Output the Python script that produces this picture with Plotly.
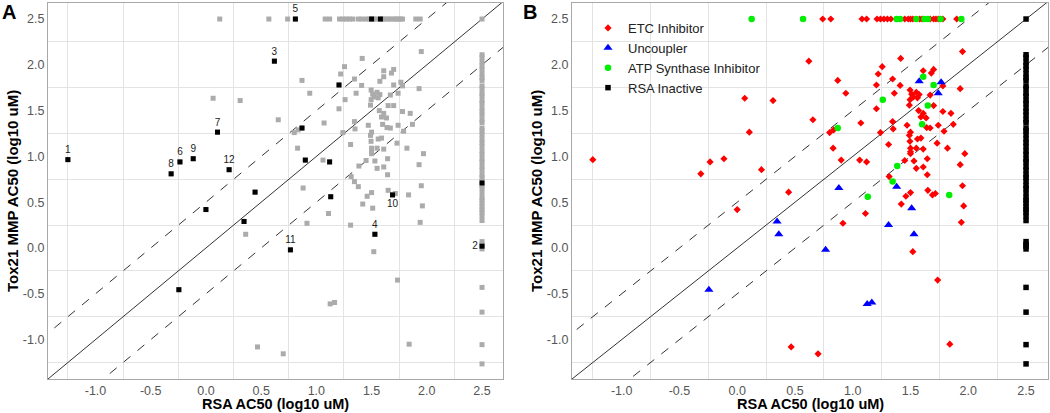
import plotly.graph_objects as go
from plotly.subplots import make_subplots

# ---- data, log10 uM (RSA AC50 on x, Tox21 MMP AC50 on y) ----
etc_x = [0.74, 0.81, 1.08, 1.12, 1.21, 1.24, 1.27, 1.30, 1.33, 1.45, 1.48, 1.50, 1.52,
         1.58, 1.60, 1.67, 1.70, 1.72, 1.74, 1.78, 1.90,
         -1.25, -0.315, -0.235, -0.115, 0.0, 0.065, 0.105, 0.21, 0.31, 0.445, 0.467,
         0.62, 0.655, 0.70, 0.80, 0.835, 0.83, 0.87, 0.90, 0.915, 0.94, 1.06, 1.07,
         1.11, 1.12, 1.205, 1.205, 1.22, 1.24, 1.255, 1.31, 1.315, 1.345, 1.345, 1.35,
         1.36, 1.41, 1.415, 1.42, 1.45, 1.46, 1.47, 1.49, 1.49, 1.495, 1.496, 1.496,
         1.50, 1.50, 1.50, 1.50, 1.50, 1.51, 1.52, 1.525, 1.53, 1.55, 1.55, 1.55, 1.56,
         1.56, 1.57, 1.575, 1.59, 1.59, 1.61, 1.61, 1.61, 1.61, 1.635, 1.64, 1.645,
         1.645, 1.65, 1.67, 1.67, 1.68, 1.69, 1.70, 1.70, 1.715, 1.73, 1.735, 1.74,
         1.78, 1.78, 1.79, 1.82, 1.84, 1.85, 1.87, 1.93, 1.93, 1.94, 1.95, 1.95, 1.96,
         1.97]
etc_y = [2.5, 2.5, 2.5, 2.5, 2.5, 2.5, 2.5, 2.5, 2.5, 2.5, 2.5, 2.5, 2.5,
         2.5, 2.5, 2.5, 2.5, 2.5, 2.5, 2.5, 2.5,
         0.965, 0.81, 0.94, 0.975, 0.42, 1.635, 1.265, 0.855, 1.61, 0.61, -1.08,
         2.04, 1.40, -1.155, 1.26, 1.29, 1.09, 1.83, 0.96, 0.27, 1.69, 0.96, 1.365,
         0.377, 0.94, 1.78, 1.52, 1.90, 1.26, 1.98, 1.13, 0.78, 1.845, 1.38, 1.30,
         1.69, 1.775, 2.07, 0.48, 0.955, 0.565, 1.34, 1.56, 1.23, 1.165, 1.725, 1.62,
         1.265, 1.09, 1.05, 1.03, 0.605, 1.68, -0.04, 1.65, 0.95, 1.70, 1.09, 0.87, 1.64,
         1.19, 1.50, 1.675, 1.43, 1.20, 1.47, 1.935, 1.08, 0.885, 1.42, 1.315, 0.975,
         0.80, 0.63, 1.67, 1.31, 1.91, 0.58, 1.95, 1.555, 0.595, 1.145, -0.35, 1.34,
         1.77, 1.49, 1.275, 1.09, -1.05, 1.47, 1.35, 1.74, 0.91, 0.28, 2.145, 0.68, 0.46,
         1.03]

unc_x = [-0.245, 0.345, 0.36, 0.765, 0.88, 1.125, 1.165, 1.31, 1.38, 1.51, 1.53,
         1.575, 1.74, 1.765]
unc_y = [-0.455, 0.29, 0.15, -0.02, 0.655, -0.61, -0.595, 0.25, 0.67, 0.435, 0.15,
         1.82, 1.69, 1.81]

atp_x = [0.125, 0.57, 1.38, 1.41, 1.55, 1.62, 1.65, 1.76, 1.94,
         0.87, 1.13, 1.26, 1.345, 1.385, 1.60, 1.61, 1.65, 1.70, 1.835]
atp_y = [2.5, 2.5, 2.5, 2.5, 2.5, 2.5, 2.5, 2.5, 2.5,
         1.31, 0.56, 1.62, 0.725, 0.895, 1.35, 1.87, 1.555, 1.78, 0.58]

# inactive in RSA -> pinned at the top concentration
inactive_x_value = 2.5
inactive_y = [2.5, 2.11, 2.08, 2.03, 1.99, 1.95, 1.90, 1.86, 1.83, 1.77, 1.74, 1.69,
              1.66, 1.61, 1.58, 1.53, 1.49, 1.45, 1.40, 1.37, 1.31, 1.28, 1.24, 1.19,
              1.15, 1.11, 1.06, 1.02, 0.97, 0.94, 0.89, 0.85, 0.80, 0.77, 0.73, 0.68,
              0.65, 0.60, 0.55, 0.52, 0.49, 0.45, 0.42, 0.39, 0.35, 0.30,
              0.07, 0.04, 0.02, -0.01, -0.43, -0.70, -1.055, -1.265]

# compounds highlighted in panel A
hl_x = [-1.25, 2.5, 0.62, 1.53, 0.81, -0.235, 0.105, -0.315, -0.115, 1.69, 0.765, 0.21,
        0.445, 0.0, 0.345, -0.245, 1.205, 0.87, 0.90, 1.12, 1.13, 1.50, 1.58, 2.5]
hl_y = [0.965, 0.02, 2.04, 0.15, 2.5, 0.94, 1.265, 0.81, 0.975, 0.58, -0.02, 0.855,
        0.61, 0.42, 0.29, -0.455, 1.78, 1.31, 0.96, 0.94, 0.56, 2.5, 2.5, 0.71]
hl_label = ['1', '2', '3', '4', '5', '6', '7', '8', '9', '10', '11', '12',
            '', '', '', '', '', '', '', '', '', '', '', '']
hl_textpos = ['top center', 'middle left', 'top center', 'top center', 'top center',
              'top center', 'top center', 'top center', 'top center', 'bottom center',
              'top center', 'top center'] + ['top center'] * 12

tick_vals = [-1.0, -0.5, 0.0, 0.5, 1.0, 1.5, 2.0, 2.5]
x_range = [-1.43, 2.69]
y_range = [-1.43, 2.675]

FONT = 'Liberation Sans, Arial, sans-serif'

fig = make_subplots(rows=1, cols=2)

# identity line and +/- 0.5 log band
line_x = [-2.0, 3.0]
for col in (1, 2):
    fig.add_trace(go.Scatter(x=line_x, y=[v for v in line_x], mode='lines',
                             line=dict(color='#333333', width=1), showlegend=False,
                             hoverinfo='skip'), row=1, col=col)
    for off in (0.5, -0.5):
        fig.add_trace(go.Scatter(x=line_x, y=[v + off for v in line_x], mode='lines',
                                 line=dict(color='#333333', width=1, dash='dash'),
                                 showlegend=False, hoverinfo='skip'), row=1, col=col)

# panel A
all_x = etc_x + unc_x + atp_x + [inactive_x_value] * len(inactive_y)
all_y = etc_y + unc_y + atp_y + inactive_y
fig.add_trace(go.Scatter(x=all_x, y=all_y, mode='markers',
                         marker=dict(symbol='square', size=5, color='#ABABAB'),
                         showlegend=False), row=1, col=1)
fig.add_trace(go.Scatter(x=hl_x, y=hl_y, mode='markers+text', text=hl_label,
                         textposition=hl_textpos,
                         textfont=dict(family=FONT, size=10, color='#1a1a1a'),
                         marker=dict(symbol='square', size=5, color='black'),
                         showlegend=False), row=1, col=1)

# panel B
fig.add_trace(go.Scatter(x=etc_x, y=etc_y, mode='markers', name='ETC Inhibitor',
                         marker=dict(symbol='diamond', size=5.5, color='#FF0000'),
                         legendrank=1), row=1, col=2)
fig.add_trace(go.Scatter(x=[inactive_x_value] * len(inactive_y), y=inactive_y,
                         mode='markers', name='RSA Inactive',
                         marker=dict(symbol='square', size=5.5, color='black'),
                         legendrank=4), row=1, col=2)
fig.add_trace(go.Scatter(x=unc_x, y=unc_y, mode='markers', name='Uncoupler',
                         marker=dict(symbol='triangle-up', size=8, color='#0000FF'),
                         legendrank=2), row=1, col=2)
fig.add_trace(go.Scatter(x=atp_x, y=atp_y, mode='markers', name='ATP Synthase Inhibitor',
                         marker=dict(symbol='circle', size=6.5, color='#00EE00'),
                         legendrank=3), row=1, col=2)

grid_vals = [-1.25] + [t + 0.25 for t in tick_vals[:-1]]
axis_style = dict(tickvals=tick_vals, ticktext=['%.1f' % t for t in tick_vals],
                  showgrid=False, zeroline=False, automargin=False,
                  minor=dict(tickvals=grid_vals, showgrid=True, gridcolor='#E3E3E3',
                             gridwidth=1, ticks=''),
                  showline=True, mirror=True, linecolor='#A8A8A8', linewidth=1.3,
                  ticks='', ticklen=0,
                  tickfont=dict(family=FONT, size=12.5, color='#555555'))

W, H = 1050, 413
dom_a = [48 / W, 503 / W]
dom_b = [572 / W, 1048 / W]
dom_y = [1 - 379 / H, 1 - 3 / H]

fig.update_xaxes(axis_style, range=x_range)
fig.update_yaxes(axis_style, range=y_range)
fig.update_layout(
    xaxis=dict(domain=dom_a), xaxis2=dict(domain=dom_b),
    yaxis=dict(domain=dom_y), yaxis2=dict(domain=dom_y),
)

ann = []
for dom, ytitle_x, letter, letter_x in ((dom_a, 13, 'A', 9), (dom_b, 537, 'B', 530)):
    ann.append(dict(text='<b>RSA AC50 (log10 uM)</b>', x=(dom[0] + dom[1]) / 2,
                    y=1 - 404 / H, xref='paper', yref='paper', showarrow=False,
                    xanchor='center', yanchor='middle',
                    font=dict(family=FONT, size=14.5, color='black')))
    ann.append(dict(text='<b>Tox21 MMP AC50 (log10 uM)</b>', x=ytitle_x / W,
                    y=(dom_y[0] + dom_y[1]) / 2, xref='paper', yref='paper',
                    showarrow=False, textangle=-90, xanchor='center', yanchor='middle',
                    font=dict(family=FONT, size=15, color='black')))
    ann.append(dict(text='<b>%s</b>' % letter, x=letter_x / W, y=1 - 12 / H,
                    xref='paper', yref='paper', showarrow=False,
                    xanchor='center', yanchor='middle',
                    font=dict(family=FONT, size=20, color='black')))

fig.update_layout(
    width=W, height=H,
    margin=dict(l=0, r=0, t=0, b=0, autoexpand=False),
    paper_bgcolor='white', plot_bgcolor='white',
    font=dict(family=FONT),
    annotations=ann,
    legend=dict(x=588 / W, y=1 - 13 / H, xanchor='left', yanchor='top',
                bgcolor='rgba(0,0,0,0)', font=dict(family=FONT, size=13, color='#222222'),
                tracegroupgap=0, itemsizing='trace'),
)

# page body has a default 8px margin; drop it so the figure fills the window
fig.write_html("out.html", config={'displayModeBar': False},
               post_script="document.body.style.margin = '0px';")
